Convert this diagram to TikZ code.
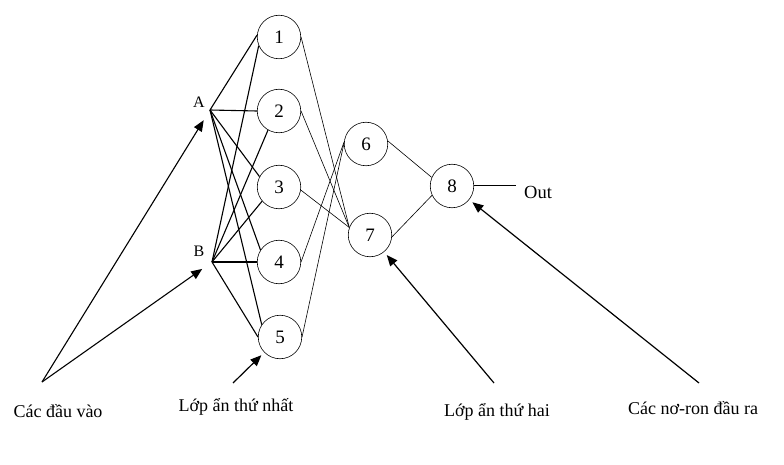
\documentclass[tikz,border=0pt]{standalone}
\usepackage{fontspec}
\setmainfont{Liberation Serif}
\usetikzlibrary{arrows.meta}

\begin{document}
\begin{tikzpicture}[x=1pt, y=-1pt,
        neuron/.style={draw, circle, line width=0.6pt, minimum size=43.5pt, inner sep=0pt, font=\fontsize{19}{22}\selectfont},
        txt/.style={font=\fontsize{18}{21}\selectfont, inner sep=0pt},
        wire/.style={black, line width=1.1pt},
        link/.style={black, line width=0.6pt},
        arr/.style={black, line width=1.2pt, -{Triangle[length=11pt, width=9pt]}, shorten >=4pt}]
    \useasboundingbox (0, 0) rectangle (784, 465);

    % inputs
    \coordinate (a) at (210, 110);
    \coordinate (b) at (212, 262);
    \node[txt, font=\fontsize{16}{19}\selectfont] (la) at (199, 102) {A};
    \node[txt, font=\fontsize{16}{19}\selectfont] (lb) at (199, 251) {B};

    % first hidden layer
    \node[neuron] (n1) at (279, 37) {1};
    \node[neuron] (n2) at (279, 111) {2};
    \node[neuron] (n3) at (279, 187) {3};
    \node[neuron] (n4) at (279, 262) {4};
    \node[neuron] (n5) at (280, 337) {5};

    % second hidden layer and output
    \node[neuron] (n6) at (366, 144) {6};
    \node[neuron] (n7) at (370, 235) {7};
    \node[neuron] (n8) at (452, 186) {8};
    \node[txt, anchor=base west, font=\fontsize{18.5}{21}\selectfont] (out) at (524, 199) {Out};
    \coordinate (oend) at (516, 185.5);

    \draw[wire] (a) -- (n1.175);
    \draw[wire] (a) -- (n2.180);
    \draw[wire] (a) -- (n3.152);
    \draw[wire] (a) -- (n4.147);
    \draw[wire] (a) -- (n5.146);
    \draw[wire] (b) -- (n1.203);
    \draw[wire] (b) -- (n2.240);
    \draw[wire] (b) -- (n3.220);
    \draw[wire] (b) -- (n4.180);
    \draw[wire] (b) -- (n5.180);

    \draw[link] (n1.east) -- (n7.160);
    \draw[link] (n2.east) -- (n7.160);
    \draw[link] (n3.352) -- (n7.160);
    \draw[link] (n4.east) -- (n6.175);
    \draw[link] (n5.east) -- (n6.178);
    \draw[link] (n6.8) -- (n8.157);
    \draw[link] (n7.355) -- (n8.205);
    \draw[wire, line width=0.9pt] (n8.east |- oend) -- (oend);

    % labels below
    \coordinate (sin) at (42, 382);
    \coordinate (s5) at (233, 383);
    \coordinate (s7) at (494, 383);
    \coordinate (s8) at (699, 383);
    \node[txt] (l1) at (58, 411) {Các đầu vào};
    \node[txt] (l2) at (236, 407) {Lớp ẩn thứ nhất};
    \node[txt] (l3) at (497, 412) {Lớp ẩn thứ hai};
    \node[txt] (l4) at (693, 408) {Các nơ-ron đầu ra};

    \draw[arr, line width=1.1pt, shorten >=12pt] (sin) -- (a);
    \draw[arr, line width=1.1pt, shorten >=12pt] (sin) -- (b);
    \draw[arr] (s5) -- (n5);
    \draw[arr] (s7) -- (n7);
    \draw[arr] (s8) -- (n8);
\end{tikzpicture}
\end{document}
